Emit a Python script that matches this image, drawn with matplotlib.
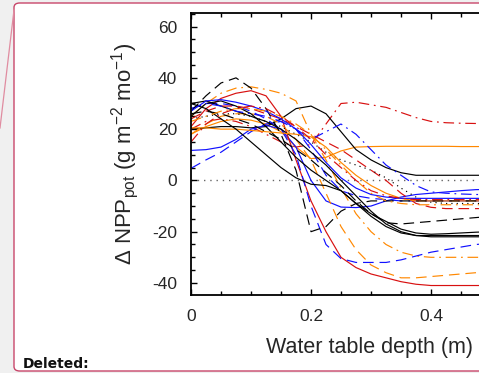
import matplotlib
matplotlib.use("Agg")
import matplotlib.pyplot as plt
from matplotlib.patches import FancyBboxPatch
from matplotlib.lines import Line2D
from matplotlib.ticker import MultipleLocator, FuncFormatter

plt.rcParams['font.family'] = ['Liberation Sans', 'DejaVu Sans']
plt.rcParams['mathtext.fontset'] = 'custom'
plt.rcParams['mathtext.rm'] = 'Liberation Sans'
plt.rcParams['mathtext.it'] = 'Liberation Sans:italic'
plt.rcParams['axes.unicode_minus'] = False

# water table depth (m), read every 0.025 m
depth = [0, .025, .05, .075, .1, .125, .15, .175, .2, .225, .25,
         .275, .3, .325, .35, .375, .4, .425, .45, .475, .5]

# Delta NPP_pot per model run (g m-2 mo-1)
red_dashdot_hi = [20, 23, 24, 23, 21, 18, 15, 13, 14, 22, 30, 30.5, 29.5, 28.5, 26.5, 24.5, 23, 22.5, 22.3, 22.2, 22.2]
orange_solid_hi = [18, 21, 23, 24, 23.5, 22, 19, 13, 8.5, 9, 11.5, 13, 13.2, 13.3, 13.3, 13.3, 13.3, 13.3, 13.2, 13.2, 13.2]
black_solid_bump = [20, 20.5, 21, 21, 20.5, 21, 24, 28, 29, 26, 19, 12, 8, 5, 3, 2, 2, 2, 2, 2, 2]
blue_solid_low = [11.7, 12, 13, 16, 20, 21.5, 20, 13, 0, -8, -10.4, -10.6, -10, -8, -6.5, -5.5, -5, -4.5, -4, -3.6, -3.5]
blue_dashed_low = [4.7, 8, 11, 15, 19, 22, 23, 20, 12, 2, -4, -6, -7, -7.5, -8, -8, -8, -8, -8, -8, -8]
red_solid = [21, 28, 32, 34, 35, 33, 25, 8, -8, -20, -30, -34, -36.5, -38, -39.5, -40.5, -41, -41, -41, -41, -41]
orange_dashdot_hi = [25, 30, 34, 36, 36.5, 35.5, 34, 31, 18, 8, -3, -13, -20, -25, -28, -29.5, -30, -30, -30, -30, -30]
orange_dashed = [18, 22, 25, 26, 26, 25, 22, 16, 8, -5, -18, -27, -33, -36, -38, -38, -37.5, -37, -36.5, -36, -36]
blue_dashed_mid = [28, 30, 30, 29, 27, 24, 20, 10, -10, -25, -30.5, -32, -32, -32, -31, -29.5, -28, -27, -26, -25, -24.5]
black_solid_a = [25, 30, 31, 29, 26, 21, 15, 9, 4, 0, -4, -9, -13, -16, -19, -20.5, -21, -20.8, -20.5, -20.2, -20]
black_solid_b = [30, 31, 29, 27, 25, 23, 20, 16, 11, 6, 0, -6, -12, -17, -20, -21.5, -22, -22, -22, -22, -22]
black_dashed_a = [26, 27, 26, 24, 22, 19, 16, 12, 8, 3, -2, -8, -13, -16.5, -17, -16.5, -16, -15.5, -15, -14.5, -14]
red_dashed = [24, 27, 29, 29, 28, 26, 24, 21, 18, 15, 12, 8, 4, 0, -5, -9, -10.5, -11, -11, -11, -11]
blue_dashdot = [28, 30, 29, 27, 26, 25, 23, 20, 16, 19, 22, 18, 12, 6, 2, -2, -4.5, -5, -5.3, -5.5, -5.5]
black_dotted = [24, 25, 26, 26, 25, 23, 21, 18, 15, 11, 8, 6, 4, 1, -3, -6.5, -8.5, -9, -9, -9, -9]
orange_solid_lo = [20.5, 20.5, 20, 20, 19.5, 19, 18.5, 18, 17, 13, 7, 2, -2, -5, -7, -8, -8, -8, -8, -8, -8]
black_dashed_peak = [27, 33, 38, 40, 36, 28, 18, 4, -20, -18, -12, -9, -8, -8, -8, -8, -8, -8, -8, -8, -8]
black_solid_c = [30, 28, 24, 20, 15, 10, 5, 1, -1.5, -2, -4, -9, -14, -18, -20.5, -21.5, -21.5, -21.5, -21.5, -21.5, -21.5]
blue_solid_hi = [27, 31, 31.5, 30.5, 29, 27, 24, 20, 14, 7, 1, -3, -5.5, -6.5, -7, -7, -7, -7, -7, -7, -7]
orange_dashdot_lo = [23, 25, 27, 28, 28, 27, 25, 22, 18, 12, 6, 0, -5, -8, -9, -9.5, -9.5, -9.5, -9.5, -9.5, -9.5]
red_dashdot_lo = [15, 22, 26, 28, 29, 28, 25, 21, 16, 10, 5, 0, -4, -6, -7, -7.5, -7.5, -7.5, -7.5, -7.5, -7.5]

BLACK, BLUE, RED, ORANGE = '#000000', '#1010ff', '#d81010', '#ff8800'
SOLID = '-'
DASH = (0, (9, 5))
DASHDOT = (0, (9, 4, 1.5, 4))
DOT = (0, (1, 3.5))

runs = [
    (red_dashdot_hi, RED, DASHDOT),
    (orange_solid_hi, ORANGE, SOLID),
    (black_solid_bump, BLACK, SOLID),
    (blue_solid_low, BLUE, SOLID),
    (blue_dashed_low, BLUE, DASH),
    (red_solid, RED, SOLID),
    (orange_dashdot_hi, ORANGE, DASHDOT),
    (orange_dashed, ORANGE, DASH),
    (blue_dashed_mid, BLUE, DASH),
    (black_solid_a, BLACK, SOLID),
    (black_solid_b, BLACK, SOLID),
    (black_dashed_a, BLACK, DASH),
    (red_dashed, RED, DASH),
    (blue_dashdot, BLUE, DASHDOT),
    (black_dotted, BLACK, DOT),
    (orange_solid_lo, ORANGE, SOLID),
    (black_dashed_peak, BLACK, DASH),
    (black_solid_c, BLACK, SOLID),
    (blue_solid_hi, BLUE, SOLID),
    (orange_dashdot_lo, ORANGE, DASHDOT),
    (red_dashdot_lo, RED, DASHDOT),
]

fig = plt.figure(figsize=(4.79, 3.73), dpi=100)
fig.patch.set_facecolor('#f0f0f0')

# comment balloon behind the chart
W, H = 479.0, 373.0
balloon = FancyBboxPatch((14 / W, 2 / H), 500 / W, 368 / H,
                         boxstyle='round,pad=0,rounding_size=0.012',
                         transform=fig.transFigure, facecolor='white',
                         edgecolor='#c8466a', linewidth=1.0, zorder=-5)
fig.patches.append(balloon)
fig.add_artist(Line2D([14 / W, 0], [1 - 10 / H, 1 - 128 / H], transform=fig.transFigure,
                      color='#e08ca0', linewidth=0.9, zorder=-4))
fig.text(23 / W, 1 - 368 / H, 'Deleted:', family='DejaVu Sans', weight='bold',
         fontsize=10, color='#111111')

ax = fig.add_axes([191 / W, 78 / H, 300 / W, 282 / H])
ax.set_zorder(2)
ax.set_facecolor('white')

ax.axhline(0, color='#666666', linewidth=1.0, linestyle=(0, (1, 3.5)), zorder=1)
for vals, col, ls in runs:
    ax.plot(depth, vals, color=col, linestyle=ls, linewidth=0.85, zorder=2)

ax.set_xlim(0, 0.5)
ax.set_ylim(-44.7, 65.3)
ax.xaxis.set_major_locator(MultipleLocator(0.2))
ax.xaxis.set_minor_locator(MultipleLocator(0.05))
ax.yaxis.set_major_locator(MultipleLocator(20))
ax.yaxis.set_minor_locator(MultipleLocator(5))
ax.xaxis.set_major_formatter(FuncFormatter(lambda v, p: '0' if v == 0 else f'{v:g}'))

ax.spines['right'].set_visible(False)
for s in ['left', 'top', 'bottom']:
    ax.spines[s].set_linewidth(1.3)
ax.tick_params(which='both', direction='in', top=True, right=False,
               colors='black', labelcolor='#262626', labelsize=12.5, width=1.0)
ax.tick_params(which='major', length=4.5, pad=10)
ax.tick_params(which='minor', length=3)

ax.set_xlabel('Water table depth (m)', fontsize=15.5, color='#262626')
ax.xaxis.set_label_coords(0.595, -0.15)
ax.set_ylabel(r'$\Delta$ NPP$_{\rm pot}$ (g m$^{-2}$ mo$^{-1}$)', fontsize=16,
              color='#262626')
ax.yaxis.set_label_coords(-0.168, 0.5)

fig.savefig('out.png', dpi=100, facecolor=fig.get_facecolor())
